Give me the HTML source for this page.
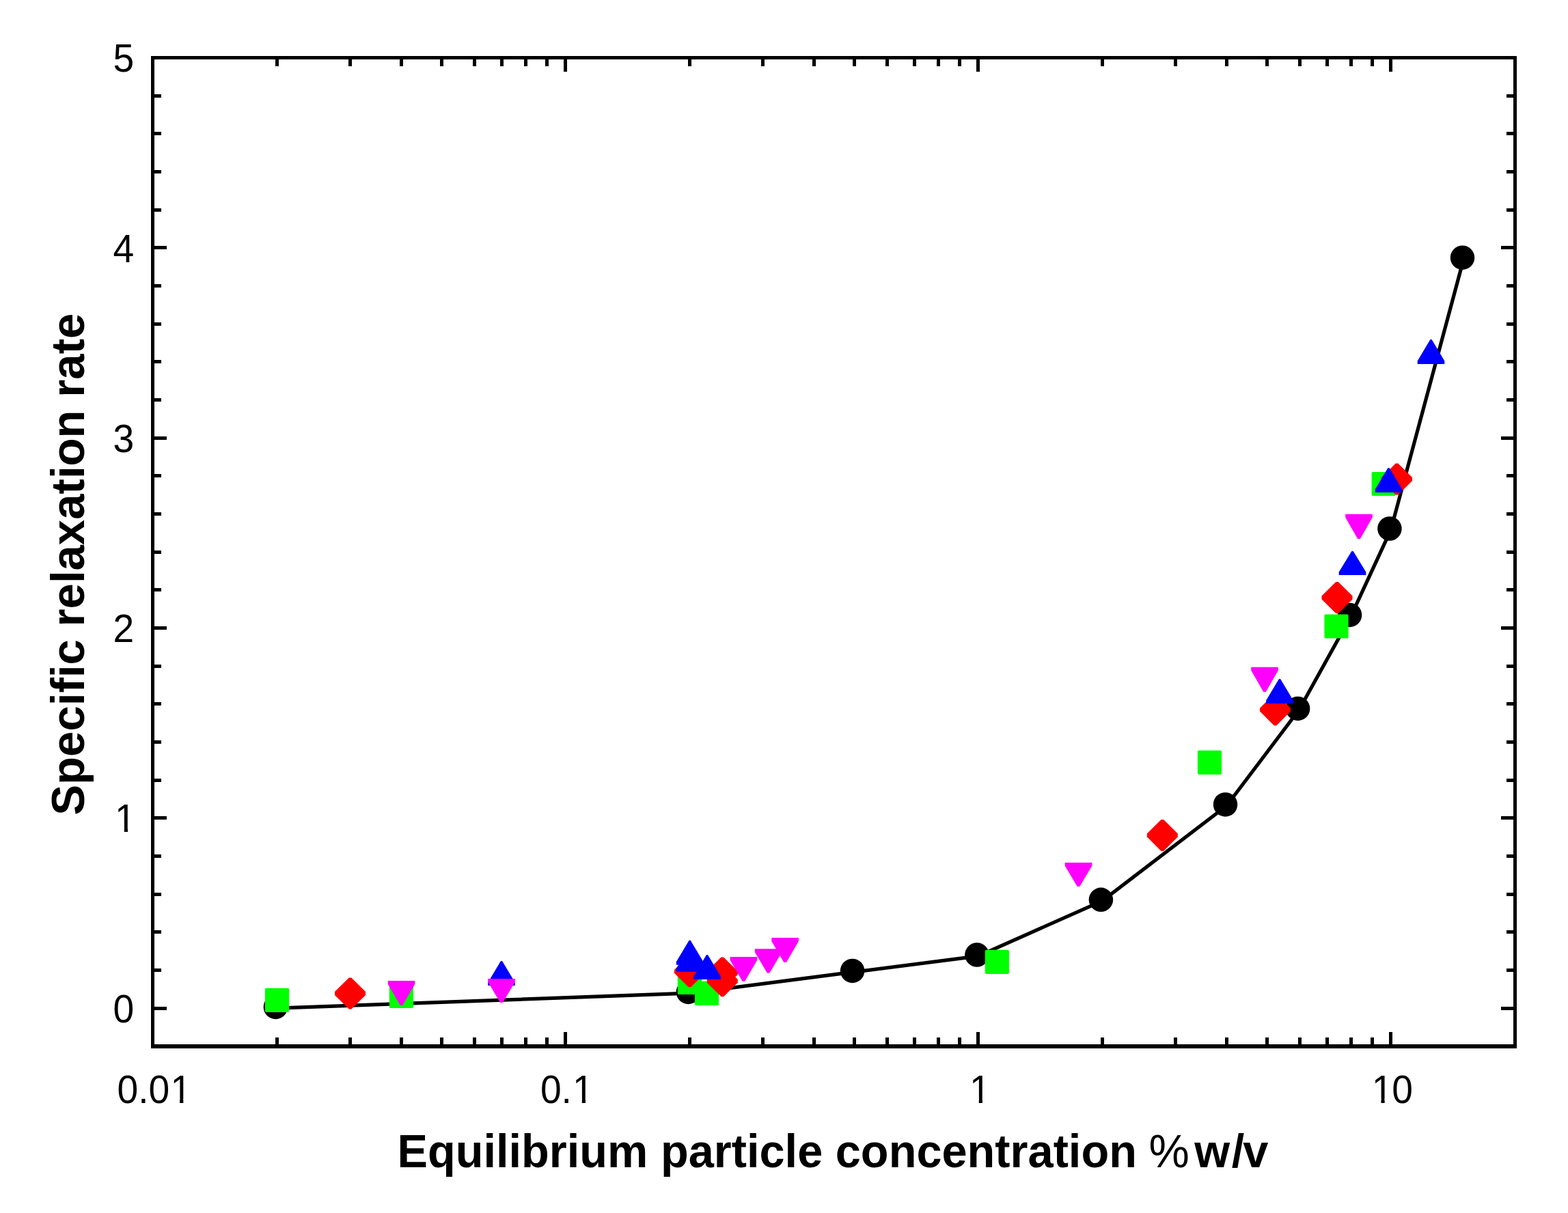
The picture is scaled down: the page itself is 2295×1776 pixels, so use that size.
<!DOCTYPE html>
<html><head><meta charset="utf-8"><title>Specific relaxation rate vs equilibrium particle concentration</title>
<style>html,body{margin:0;padding:0;background:#fff;}svg{display:block;}</style></head>
<body>
<svg width="2295" height="1776" viewBox="0 0 2295 1776">
<rect x="0" y="0" width="2295" height="1776" fill="#fff"/>
<polyline points="405.2,1476.2 1009.2,1454.2 1249.4,1423.2 1431.7,1399.8 1613.2,1319.1 1795.3,1179.7 1901.4,1039.2 1977.3,902.2 2035.7,775.8 2142.3,379.0" fill="none" stroke="#000" stroke-width="5.2" stroke-linejoin="round"/>
<circle cx="403.4" cy="1474.4" r="17.75" fill="#000"/>
<circle cx="1007.4" cy="1452.4" r="17.75" fill="#000"/>
<circle cx="1247.6" cy="1421.4" r="17.75" fill="#000"/>
<circle cx="1429.9" cy="1398.0" r="17.75" fill="#000"/>
<circle cx="1611.4" cy="1317.3" r="17.75" fill="#000"/>
<circle cx="1793.5" cy="1177.9" r="17.75" fill="#000"/>
<circle cx="1899.6" cy="1037.4" r="17.75" fill="#000"/>
<circle cx="1975.5" cy="900.4" r="17.75" fill="#000"/>
<circle cx="2033.9" cy="774.0" r="17.75" fill="#000"/>
<circle cx="2140.5" cy="377.2" r="17.75" fill="#000"/>
<polygon points="389.20,1446.80 421.80,1446.80 423.10,1448.10 423.10,1480.70 421.80,1482.00 389.20,1482.00 387.90,1480.70 387.90,1448.10" fill="#00ff00"/>
<polygon points="571.10,1440.70 603.70,1440.70 605.00,1442.00 605.00,1474.60 603.70,1475.90 571.10,1475.90 569.80,1474.60 569.80,1442.00" fill="#00ff00"/>
<polygon points="993.10,1420.80 1025.70,1420.80 1027.00,1422.10 1027.00,1454.70 1025.70,1456.00 993.10,1456.00 991.80,1454.70 991.80,1422.10" fill="#00ff00"/>
<polygon points="1018.20,1436.70 1050.80,1436.70 1052.10,1438.00 1052.10,1470.60 1050.80,1471.90 1018.20,1471.90 1016.90,1470.60 1016.90,1438.00" fill="#00ff00"/>
<polygon points="1443.00,1390.70 1475.60,1390.70 1476.90,1392.00 1476.90,1424.60 1475.60,1425.90 1443.00,1425.90 1441.70,1424.60 1441.70,1392.00" fill="#00ff00"/>
<polygon points="1754.20,1098.80 1786.80,1098.80 1788.10,1100.10 1788.10,1132.70 1786.80,1134.00 1754.20,1134.00 1752.90,1132.70 1752.90,1100.10" fill="#00ff00"/>
<polygon points="1939.70,899.40 1972.30,899.40 1973.60,900.70 1973.60,933.30 1972.30,934.60 1939.70,934.60 1938.40,933.30 1938.40,900.70" fill="#00ff00"/>
<polygon points="2008.90,690.90 2041.50,690.90 2042.80,692.20 2042.80,724.80 2041.50,726.10 2008.90,726.10 2007.60,724.80 2007.60,692.20" fill="#00ff00"/>
<polygon points="510.70,1431.50 514.30,1431.50 535.00,1452.10 535.00,1456.90 514.30,1477.50 510.70,1477.50 490.00,1456.90 490.00,1452.10" fill="#ff0000"/>
<polygon points="1007.60,1399.30 1011.20,1399.30 1031.90,1419.90 1031.90,1424.70 1011.20,1445.30 1007.60,1445.30 986.90,1424.70 986.90,1419.90" fill="#ff0000"/>
<polygon points="1055.50,1401.50 1059.10,1401.50 1079.80,1422.10 1079.80,1426.90 1059.10,1447.50 1055.50,1447.50 1034.80,1426.90 1034.80,1422.10" fill="#ff0000"/>
<polygon points="1055.50,1413.30 1059.10,1413.30 1079.80,1433.90 1079.80,1438.70 1059.10,1459.30 1055.50,1459.30 1034.80,1438.70 1034.80,1433.90" fill="#ff0000"/>
<polygon points="1699.50,1199.90 1703.10,1199.90 1723.80,1220.50 1723.80,1225.30 1703.10,1245.90 1699.50,1245.90 1678.80,1225.30 1678.80,1220.50" fill="#ff0000"/>
<polygon points="1864.70,1016.20 1868.30,1016.20 1889.00,1036.80 1889.00,1041.60 1868.30,1062.20 1864.70,1062.20 1844.00,1041.60 1844.00,1036.80" fill="#ff0000"/>
<polygon points="1955.20,852.00 1958.80,852.00 1979.50,872.60 1979.50,877.40 1958.80,898.00 1955.20,898.00 1934.50,877.40 1934.50,872.60" fill="#ff0000"/>
<polygon points="2042.70,678.50 2046.30,678.50 2067.00,699.10 2067.00,703.90 2046.30,724.50 2042.70,724.50 2022.00,703.90 2022.00,699.10" fill="#ff0000"/>
<polygon points="733.00,1406.90 735.00,1406.90 753.80,1438.40 753.80,1442.90 714.20,1442.90 714.20,1438.40" fill="#0000ff"/>
<polygon points="1008.60,1376.80 1010.60,1376.80 1029.40,1408.20 1029.40,1412.70 989.80,1412.70 989.80,1408.20" fill="#0000ff"/>
<polygon points="1008.60,1386.80 1010.60,1386.80 1029.40,1418.30 1029.40,1422.80 989.80,1422.80 989.80,1418.30" fill="#0000ff"/>
<polygon points="1034.00,1398.00 1036.00,1398.00 1054.80,1429.50 1054.80,1434.00 1015.20,1434.00 1015.20,1429.50" fill="#0000ff"/>
<polygon points="1872.00,993.90 1874.00,993.90 1892.80,1025.40 1892.80,1029.90 1853.20,1029.90 1853.20,1025.40" fill="#0000ff"/>
<polygon points="1978.50,806.80 1980.50,806.80 1999.30,837.50 1999.30,842.00 1959.70,842.00 1959.70,837.50" fill="#0000ff"/>
<polygon points="2031.50,685.10 2033.50,685.10 2052.30,716.50 2052.30,721.00 2012.70,721.00 2012.70,716.50" fill="#0000ff"/>
<polygon points="2093.50,496.90 2095.50,496.90 2114.30,528.40 2114.30,532.90 2074.70,532.90 2074.70,528.40" fill="#0000ff"/>
<polygon points="567.70,1436.00 607.30,1436.00 607.30,1440.80 589.30,1471.90 585.70,1471.90 567.70,1440.80" fill="#ff00ff"/>
<polygon points="714.20,1433.00 753.80,1433.00 753.80,1437.80 735.80,1467.90 732.20,1467.90 714.20,1437.80" fill="#ff00ff"/>
<polygon points="1068.60,1401.00 1108.20,1401.00 1108.20,1405.80 1090.20,1436.80 1086.60,1436.80 1068.60,1405.80" fill="#ff00ff"/>
<polygon points="1104.80,1389.20 1144.40,1389.20 1144.40,1394.00 1126.40,1424.50 1122.80,1424.50 1104.80,1394.00" fill="#ff00ff"/>
<polygon points="1129.30,1373.10 1168.90,1373.10 1168.90,1377.90 1150.90,1408.90 1147.30,1408.90 1129.30,1377.90" fill="#ff00ff"/>
<polygon points="1558.70,1262.90 1598.30,1262.90 1598.30,1267.70 1580.30,1297.90 1576.70,1297.90 1558.70,1267.70" fill="#ff00ff"/>
<polygon points="1831.20,976.80 1870.80,976.80 1870.80,981.60 1852.80,1012.90 1849.20,1012.90 1831.20,981.60" fill="#ff00ff"/>
<polygon points="1969.20,752.80 2008.80,752.80 2008.80,757.60 1990.80,789.10 1987.20,789.10 1969.20,757.60" fill="#ff00ff"/>
<path d="M221,82H2220V87H221Z M221,1529H2220V1535H221Z M221,82H226V1535H221Z M2215,82H2220V1535H2215Z" fill="#000"/>
<path d="M226,1474h18v5h-18Z M2215,1474h-18v5h18Z M226,1418h10v5h-10Z M2215,1418h-10v5h10Z M226,1362h10v5h-10Z M2215,1362h-10v5h10Z M226,1307h10v5h-10Z M2215,1307h-10v5h10Z M226,1251h10v5h-10Z M2215,1251h-10v5h10Z M226,1195h18v5h-18Z M2215,1195h-18v5h18Z M226,1140h10v5h-10Z M2215,1140h-10v5h10Z M226,1084h10v5h-10Z M2215,1084h-10v5h10Z M226,1028h10v5h-10Z M2215,1028h-10v5h10Z M226,973h10v5h-10Z M2215,973h-10v5h10Z M226,917h18v5h-18Z M2215,917h-18v5h18Z M226,861h10v5h-10Z M2215,861h-10v5h10Z M226,806h10v5h-10Z M2215,806h-10v5h10Z M226,750h10v5h-10Z M2215,750h-10v5h10Z M226,694h10v5h-10Z M2215,694h-10v5h10Z M226,639h18v5h-18Z M2215,639h-18v5h18Z M226,583h10v5h-10Z M2215,583h-10v5h10Z M226,527h10v5h-10Z M2215,527h-10v5h10Z M226,472h10v5h-10Z M2215,472h-10v5h10Z M226,416h10v5h-10Z M2215,416h-10v5h10Z M226,360h18v5h-18Z M2215,360h-18v5h18Z M226,305h10v5h-10Z M2215,305h-10v5h10Z M226,249h10v5h-10Z M2215,249h-10v5h10Z M226,193h10v5h-10Z M2215,193h-10v5h10Z M226,138h10v5h-10Z M2215,138h-10v5h10Z M403,1529v-10h5v10Z M403,87v10h5v-10Z M510,1529v-10h5v10Z M510,87v10h5v-10Z M585,1529v-10h5v10Z M585,87v10h5v-10Z M644,1529v-10h5v10Z M644,87v10h5v-10Z M692,1529v-10h5v10Z M692,87v10h5v-10Z M732,1529v-10h5v10Z M732,87v10h5v-10Z M767,1529v-10h5v10Z M767,87v10h5v-10Z M798,1529v-10h5v10Z M798,87v10h5v-10Z M825,1529v-18h5v18Z M825,87v18h5v-18Z M1007,1529v-10h5v10Z M1007,87v10h5v-10Z M1114,1529v-10h5v10Z M1114,87v10h5v-10Z M1189,1529v-10h5v10Z M1189,87v10h5v-10Z M1248,1529v-10h5v10Z M1248,87v10h5v-10Z M1296,1529v-10h5v10Z M1296,87v10h5v-10Z M1336,1529v-10h5v10Z M1336,87v10h5v-10Z M1371,1529v-10h5v10Z M1371,87v10h5v-10Z M1402,1529v-10h5v10Z M1402,87v10h5v-10Z M1429,1529v-18h5v18Z M1429,87v18h5v-18Z M1611,1529v-10h5v10Z M1611,87v10h5v-10Z M1718,1529v-10h5v10Z M1718,87v10h5v-10Z M1793,1529v-10h5v10Z M1793,87v10h5v-10Z M1852,1529v-10h5v10Z M1852,87v10h5v-10Z M1900,1529v-10h5v10Z M1900,87v10h5v-10Z M1940,1529v-10h5v10Z M1940,87v10h5v-10Z M1975,1529v-10h5v10Z M1975,87v10h5v-10Z M2006,1529v-10h5v10Z M2006,87v10h5v-10Z M2033,1529v-18h5v18Z M2033,87v18h5v-18Z" fill="#000"/>
<text transform="translate(165.50,1496.70) scale(1,1.026)" x="0.00" y="0" font-family='"Liberation Sans", Arial, sans-serif' font-size="55.2" fill="#000">0</text>
<text transform="translate(165.50,1218.40) scale(1,1.026)" x="2.60" y="0" font-family='"Liberation Sans", Arial, sans-serif' font-size="55.2" fill="#000">1</text>
<text transform="translate(165.50,940.10) scale(1,1.026)" x="0.00" y="0" font-family='"Liberation Sans", Arial, sans-serif' font-size="55.2" fill="#000">2</text>
<text transform="translate(165.50,661.80) scale(1,1.026)" x="0.00" y="0" font-family='"Liberation Sans", Arial, sans-serif' font-size="55.2" fill="#000">3</text>
<text transform="translate(165.50,383.50) scale(1,1.026)" x="0.00" y="0" font-family='"Liberation Sans", Arial, sans-serif' font-size="55.2" fill="#000">4</text>
<text transform="translate(165.50,105.20) scale(1,1.026)" x="0.00" y="0" font-family='"Liberation Sans", Arial, sans-serif' font-size="55.2" fill="#000">5</text>
<text transform="translate(171.58,1614.50) scale(1,1.026)" x="0.00 30.70 46.04 77.84" y="0" font-family='"Liberation Sans", Arial, sans-serif' font-size="55.2" fill="#000">0.01</text>
<text transform="translate(790.93,1614.50) scale(1,1.026)" x="0.00 30.70 47.14" y="0" font-family='"Liberation Sans", Arial, sans-serif' font-size="55.2" fill="#000">0.1</text>
<text transform="translate(1417.95,1614.50) scale(1,1.026)" x="1.10" y="0" font-family='"Liberation Sans", Arial, sans-serif' font-size="55.2" fill="#000">1</text>
<text transform="translate(2006.60,1614.50) scale(1,1.026)" x="1.10 30.70" y="0" font-family='"Liberation Sans", Arial, sans-serif' font-size="55.2" fill="#000">10</text>
<g fill="#fff"><rect x="171.07" y="1212.37" width="10.75" height="7.23"/><rect x="187.02" y="1212.37" width="10.46" height="7.23"/><rect x="252.38" y="1608.47" width="10.75" height="7.23"/><rect x="268.34" y="1608.47" width="10.46" height="7.23"/><rect x="841.03" y="1608.47" width="10.75" height="7.23"/><rect x="856.99" y="1608.47" width="10.46" height="7.23"/><rect x="1422.02" y="1608.47" width="10.75" height="7.23"/><rect x="1437.97" y="1608.47" width="10.46" height="7.23"/><rect x="2010.67" y="1608.47" width="10.75" height="7.23"/><rect x="2026.62" y="1608.47" width="10.46" height="7.23"/></g>
<g transform="translate(0,1708.9) scale(1,1.015)" font-family='"Liberation Sans", Arial, sans-serif' font-size="66.72" fill="#000"><text x="581.44" y="0" font-weight="bold">Equilibrium particle concentration</text><text x="1681.4" y="0">%</text><text x="1748.2 1802.65 1819.2" y="0" font-weight="bold">w/v</text></g>
<text transform="translate(123.2,1193.7) rotate(-90) scale(1,1.015)" font-family='"Liberation Sans", Arial, sans-serif' font-size="67.15" font-weight="bold" fill="#000">Specific relaxation rate</text>
</svg>
</body></html>
